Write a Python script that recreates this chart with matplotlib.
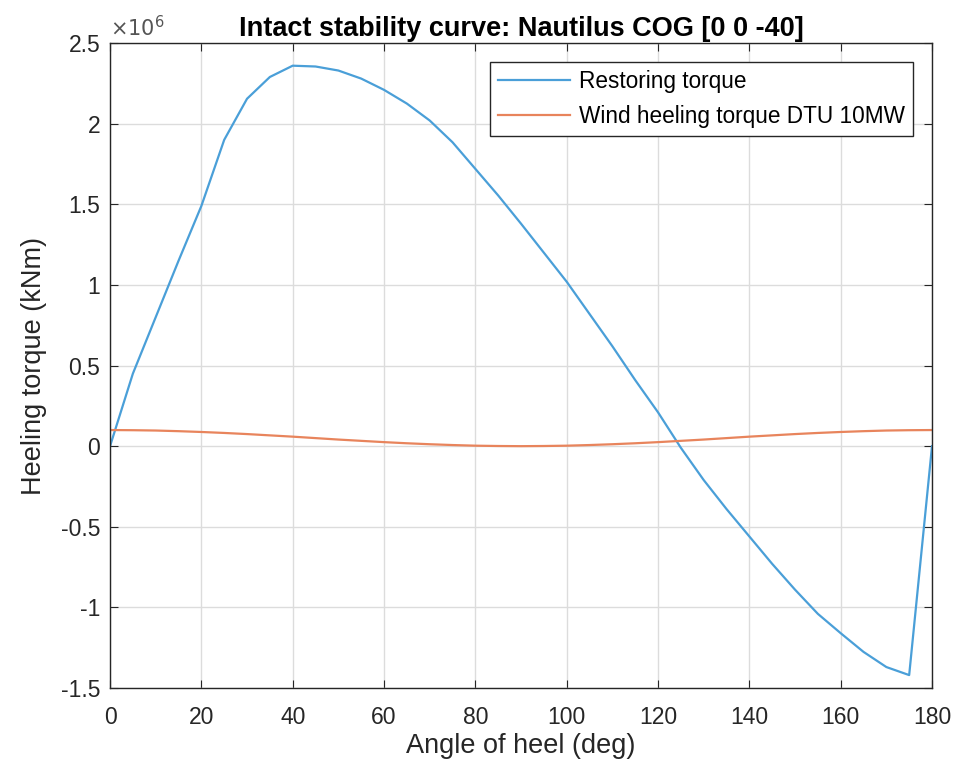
import numpy as np
import matplotlib
matplotlib.use("Agg")
import matplotlib.pyplot as plt
from matplotlib.ticker import FuncFormatter

# angulo de banda (graus)
angulos = [0, 5, 10, 15, 20, 25, 30, 35, 40, 45, 50, 55, 60, 65, 70, 75, 80, 85, 90,
           95, 100, 105, 110, 115, 120, 125, 130, 135, 140, 145, 150, 155, 160, 165,
           170, 175, 180]

# torque restaurador (kNm)
restaurador = [0.0, 0.45e6, 0.80e6, 1.15e6, 1.49e6, 1.90e6, 2.155e6, 2.29e6, 2.36e6,
               2.355e6, 2.33e6, 2.28e6, 2.21e6, 2.125e6, 2.02e6, 1.885e6, 1.72e6,
               1.555e6, 1.38e6, 1.20e6, 1.02e6, 0.82e6, 0.62e6, 0.41e6, 0.21e6,
               -0.01e6, -0.21e6, -0.39e6, -0.56e6, -0.73e6, -0.89e6, -1.04e6,
               -1.16e6, -1.276e6, -1.37e6, -1.42e6, 0.0]

# torque de vento DTU 10MW (kNm)
vento = [0.100e6, 0.099e6, 0.097e6, 0.093e6, 0.088e6, 0.082e6, 0.075e6, 0.067e6,
         0.059e6, 0.050e6, 0.041e6, 0.033e6, 0.025e6, 0.018e6, 0.012e6, 0.007e6,
         0.003e6, 0.001e6, 0.000e6, 0.001e6, 0.003e6, 0.007e6, 0.012e6, 0.018e6,
         0.025e6, 0.033e6, 0.041e6, 0.050e6, 0.059e6, 0.067e6, 0.075e6, 0.082e6,
         0.088e6, 0.093e6, 0.097e6, 0.099e6, 0.100e6]

xticks = [0, 20, 40, 60, 80, 100, 120, 140, 160, 180]
yticks = [-1.5e6, -1e6, -0.5e6, 0, 0.5e6, 1e6, 1.5e6, 2e6, 2.5e6]

plt.rcParams['font.family'] = ['Liberation Sans', 'DejaVu Sans']

fig = plt.figure(figsize=(9.79, 7.7), dpi=100)
ax = fig.add_axes([0.1124, 0.1065, 0.8396, 0.8375])

ax.plot(angulos, restaurador, color='#4a9fd8', lw=1.6, label='Restoring torque')
ax.plot(angulos, vento, color='#e8845c', lw=1.6, label='Wind heeling torque DTU 10MW')

ax.set_xlim(0, 180)
ax.set_ylim(-1.5e6, 2.5e6)
ax.set_xticks(xticks)
ax.set_yticks(yticks)
ax.yaxis.set_major_formatter(FuncFormatter(lambda v, _: f'{v/1e6:g}'))
ax.grid(True, color='#dcdcdc', lw=1.0)
ax.set_axisbelow(True)
ax.tick_params(direction='in', top=True, right=True, labelsize=16.5,
               colors='#262626', length=6, width=0.8, pad=7)
ax.tick_params(axis='x', pad=13)
for s in ax.spines.values():
    s.set_color('#262626')
    s.set_linewidth(1.0)

ax.text(0.0, 1.005, r'$\times10^6$', transform=ax.transAxes, fontsize=15,
        color='#555555', ha='left', va='bottom')

ax.set_title('Intact stability curve: Nautilus COG [0 0 -40]', fontsize=19.5,
             fontweight='bold', pad=5)
ax.set_xlabel('Angle of heel (deg)', fontsize=19.5, color='#262626', labelpad=3)
ax.set_ylabel('Heeling torque (kNm)', fontsize=19.5, color='#262626', labelpad=10)

leg = ax.legend(loc='upper right', bbox_to_anchor=(0.977, 0.970), borderaxespad=0,
                fancybox=False, framealpha=1, edgecolor='#262626',
                handlelength=3.2, borderpad=0.35, labelspacing=0.5,
                handletextpad=0.4, prop={'size': 16.3})
leg.get_frame().set_linewidth(1.0)

fig.savefig('out.png', dpi=100)
